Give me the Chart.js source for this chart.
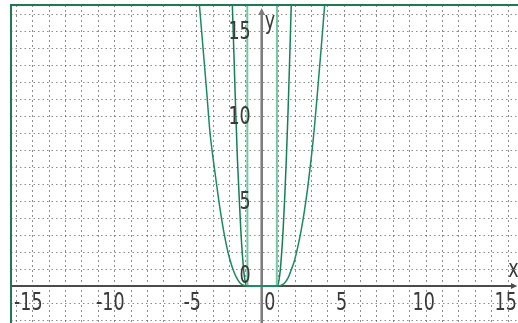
<!DOCTYPE html>
<html>
<head>
<meta charset="utf-8">
<script src="https://cdn.jsdelivr.net/npm/chart.js@4/dist/chart.umd.min.js"></script>
<style>
  html, body { margin: 0; padding: 0; background: #fff; }
  #wrap { width: 518px; height: 323px; }
</style>
</head>
<body>
<div id="wrap"><canvas id="plot"></canvas></div>
<script>
// tick labels
const xTicks = [-15, -10, -5, 0, 5, 10, 15];
const yTicks = [0, 5, 10, 15];

// wide curve
const wideX = [-3.80, -3.56, -3.36, -3.16, -2.94, -2.72, -2.52, -2.32, -2.12, -1.92, -1.72, -1.52, -1.32, -1.12, -0.95,
               1.0, 1.2, 1.4, 1.6, 1.8, 2.0, 2.2, 2.4, 2.6, 2.8, 3.0, 3.2, 3.4, 3.6, 3.84];
const wideY = [16.55, 13.8, 11.5, 9.1, 7.33, 5.76, 4.39, 3.23, 2.26, 1.49, 0.9, 0.46, 0.18, 0.05, 0,
               0, 0.05, 0.18, 0.46, 0.95, 1.5, 2.3, 3.25, 4.4, 5.75, 7.35, 9.2, 11.4, 13.7, 16.55];

// narrower curve
const midX = [-1.79, -1.68, -1.58, -1.48, -1.37, -1.27, -1.17, -1.07, -0.93,
              0.96, 1.1, 1.2, 1.3, 1.4, 1.5, 1.6, 1.7, 1.8];
const midY = [16.5, 13.2, 10.1, 7.45, 5.15, 3.2, 1.73, 0.65, 0,
              0, 0.65, 1.73, 3.2, 5.15, 7.45, 10.1, 13.2, 16.5];

// steepest curve
const steepX = [-0.88, -0.87, 0.92, 0.93];
const steepY = [16.6, 0, 0, 16.6];

const pts = (xs, ys) => xs.map((v, i) => ({ x: v, y: ys[i] }));

const FONT = '25px "Liberation Sans Narrow", "DejaVu Sans Condensed", sans-serif';

function narrowText(ctx, txt, px, py, align) {
  ctx.save();
  ctx.translate(px, py);
  ctx.scale(0.78, 1);
  ctx.textAlign = align;
  ctx.fillText(txt, 0, 0);
  ctx.restore();
}

const mathAxes = {
  id: 'mathAxes',
  beforeDatasetsDraw(chart) {
    const { ctx, chartArea: a, scales: { x, y } } = chart;
    ctx.save();
    ctx.lineWidth = 1;
    ctx.strokeStyle = 'rgba(80,80,80,0.65)';

    // vertical grid
    ctx.setLineDash([2, 3]);
    for (let v = Math.ceil(x.min); v <= x.max; v++) {
      const px = Math.round(x.getPixelForValue(v)) + 0.5;
      ctx.beginPath(); ctx.moveTo(px, a.top); ctx.lineTo(px, a.bottom); ctx.stroke();
    }
    // horizontal grid
    ctx.setLineDash([1.5, 3]);
    for (let v = Math.ceil(y.min); v <= y.max; v++) {
      const py = Math.round(y.getPixelForValue(v)) + 0.5;
      ctx.beginPath(); ctx.moveTo(a.left, py); ctx.lineTo(a.right, py); ctx.stroke();
    }
    ctx.setLineDash([]);

    const x0 = x.getPixelForValue(0);
    const y0 = y.getPixelForValue(0);

    // x axis + arrow
    ctx.strokeStyle = '#4a4a4a';
    ctx.fillStyle = '#4a4a4a';
    ctx.lineWidth = 2;
    ctx.beginPath(); ctx.moveTo(a.left, y0); ctx.lineTo(a.right - 3, y0); ctx.stroke();
    ctx.beginPath();
    ctx.moveTo(a.right - 1, y0); ctx.lineTo(a.right - 7, y0 - 3); ctx.lineTo(a.right - 7, y0 + 3);
    ctx.closePath(); ctx.fill();

    // y axis + arrow
    ctx.strokeStyle = '#7d7d7d';
    ctx.fillStyle = '#7d7d7d';
    ctx.lineWidth = 2.6;
    ctx.beginPath(); ctx.moveTo(x0, a.bottom); ctx.lineTo(x0, a.top + 8); ctx.stroke();
    ctx.beginPath();
    ctx.moveTo(x0, a.top + 3); ctx.lineTo(x0 - 3.5, a.top + 10); ctx.lineTo(x0 + 3.5, a.top + 10);
    ctx.closePath(); ctx.fill();
    ctx.restore();
  },
  afterDraw(chart) {
    const { ctx, chartArea: a, scales: { x, y } } = chart;
    const x0 = x.getPixelForValue(0);
    const y0 = y.getPixelForValue(0);
    ctx.save();
    ctx.font = FONT;
    ctx.fillStyle = '#3a3a3a';
    ctx.textBaseline = 'alphabetic';

    xTicks.forEach(v => {
      const dx = v < 0 ? 12.5 : (v === 0 ? 8 : -2);
      narrowText(ctx, String(v), x.getPixelForValue(v) + dx, y0 + 24, 'center');
    });
    yTicks.forEach(v => {
      const py = v === 0 ? y0 - 2.5 : y.getPixelForValue(v) + 7.8;
      narrowText(ctx, String(v), x0 - 11, py, 'right');
    });

    narrowText(ctx, 'x', a.right - 4.5, y0 - 9, 'center');
    narrowText(ctx, 'y', x0 + 3, a.top + 24, 'left');

    // frame
    ctx.strokeStyle = '#1d7a55';
    ctx.lineWidth = 2;
    ctx.beginPath();
    ctx.moveTo(a.left, a.bottom); ctx.lineTo(a.left, a.top); ctx.lineTo(a.right, a.top);
    ctx.stroke();
    ctx.restore();
  }
};

new Chart(document.getElementById('plot'), {
  type: 'scatter',
  data: {
    datasets: [
      { data: pts(wideX, wideY), borderColor: '#1a8a60', borderWidth: 1.5 },
      { data: pts(midX, midY), borderColor: '#157f58', borderWidth: 1.5 },
      { data: pts(steepX, steepY), borderColor: '#74c7a3', borderWidth: 2 }
    ].map(d => Object.assign(d, {
      showLine: true,
      pointRadius: 0,
      cubicInterpolationMode: 'monotone',
      fill: false
    }))
  },
  options: {
    responsive: true,
    maintainAspectRatio: false,
    animation: false,
    layout: { padding: { left: 11, top: 5, right: 0, bottom: 0 } },
    plugins: { legend: { display: false }, tooltip: { enabled: false } },
    scales: {
      x: { type: 'linear', min: -15.29, max: 15.63, display: false },
      y: { type: 'linear', min: -2.18, max: 16.55, display: false }
    }
  },
  plugins: [mathAxes]
});
</script>
</body>
</html>
